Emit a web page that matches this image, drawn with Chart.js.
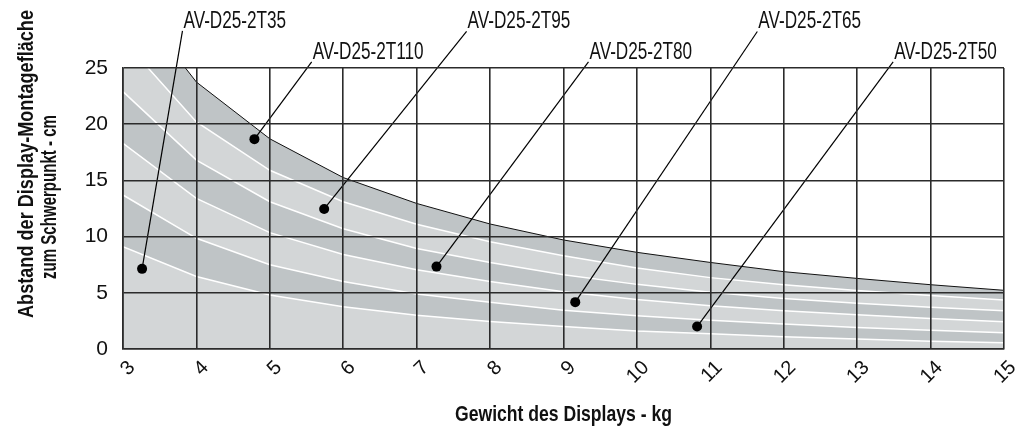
<!DOCTYPE html>
<html>
<head>
<meta charset="utf-8">
<script src="https://cdn.jsdelivr.net/npm/chart.js@4.4.1/dist/chart.umd.min.js"></script>
<style>
  html, body { margin: 0; padding: 0; background: #fff; }
  #wrap { width: 1018px; height: 430px; }
</style>
</head>
<body>
<div id="wrap"><canvas id="chart"></canvas></div>
<script>
// weight of the display (kg) at each vertex of the curves
var weights = [3, 4, 5, 6, 7, 8, 9, 10, 11, 12, 13, 14, 15];

// max distance mounting face -> centre of gravity (cm), one curve per model
var dist2T35  = [9.1, 6.45, 4.8, 3.75, 3.0, 2.45, 2.0, 1.6, 1.35, 1.1, 0.9, 0.7, 0.55];
var dist2T50  = [13.7, 9.85, 7.5, 6.0, 4.9, 4.15, 3.45, 2.95, 2.55, 2.22, 1.92, 1.66, 1.44];
var dist2T65  = [18.3, 13.4, 10.35, 8.4, 7.05, 6.0, 5.1, 4.4, 3.85, 3.4, 3.05, 2.72, 2.42];
var dist2T80  = [22.9, 16.8, 13.1, 10.7, 8.95, 7.7, 6.6, 5.75, 5.05, 4.5, 4.08, 3.72, 3.4];
var dist2T95  = [27.5, 20.2, 15.9, 13.1, 11.1, 9.55, 8.3, 7.2, 6.35, 5.72, 5.2, 4.75, 4.35];
var dist2T110 = [32.1, 23.75, 18.7, 15.25, 12.95, 11.12, 9.7, 8.6, 7.7, 6.88, 6.28, 5.72, 5.22];

var models = ['AV-D25-2T35', 'AV-D25-2T50', 'AV-D25-2T65', 'AV-D25-2T80', 'AV-D25-2T95', 'AV-D25-2T110'];
var curves = [dist2T35, dist2T50, dist2T65, dist2T80, dist2T95, dist2T110];

// callouts: a dot inside each band, and where the leader meets its label
var dotWeight     = [3.26, 10.82, 9.16, 7.27, 5.74, 4.79];
var dotDistance   = [7.13, 2.0, 4.17, 7.33, 12.46, 18.67];
var labelWeight   = [3.81, 13.49, 11.64, 9.34, 7.68, 5.57];
var labelDistance = [28.3, 25.55, 28.25, 25.55, 28.25, 25.55];

var xTicks = [3, 4, 5, 6, 7, 8, 9, 10, 11, 12, 13, 14, 15];
var yTicks = [0, 5, 10, 15, 20, 25];

var xTitle = 'Gewicht des Displays - kg';
var yTitle = ['Abstand der Display-Montagefläche', 'zum Schwerpunkt - cm'];

// there is no condensed face installed, so text drawn here is squeezed sideways
var FONT = '"Liberation Sans", Arial, sans-serif';
var SQUEEZE = 0.73;
var LIGHT = '#d3d6d7';
var DARK = '#bfc4c6';

var datasets = [];

curves.forEach(function(vals, i) {
	var top = i === curves.length - 1;
	datasets.push({
		label: models[i],
		data: weights.map(function(w, j) { return {x: w, y: vals[j]}; }),
		borderColor: top ? '#111' : '#fff',
		borderWidth: top ? 1 : 1.5,
		backgroundColor: i % 2 === 0 ? LIGHT : DARK,
		fill: i === 0 ? 'origin' : '-1',
		pointRadius: 0,
		tension: 0
	});
});

models.forEach(function(name, i) {
	datasets.push({
		label: name,
		isCallout: true,
		data: [
			{x: labelWeight[i], y: labelDistance[i]},
			{x: dotWeight[i], y: dotDistance[i]}
		],
		borderColor: '#000',
		borderWidth: 1.2,
		fill: false,
		clip: false,
		order: -1,
		pointRadius: function(ctx) { return ctx.dataIndex === 1 ? 5 : 0; },
		pointBackgroundColor: '#000',
		pointBorderColor: '#000',
		pointBorderWidth: 0
	});
});

function squeezedText(ctx, text, x, y, sx, angle) {
	ctx.save();
	ctx.translate(x, y);
	if (angle) ctx.rotate(angle);
	ctx.scale(sx, 1);
	ctx.fillText(text, 0, 0);
	ctx.restore();
}

// label text at the upper end of each leader line
var calloutLabels = {
	id: 'calloutLabels',
	afterDatasetsDraw: function(chart) {
		var ctx = chart.ctx;
		ctx.save();
		ctx.font = '23.5px ' + FONT;
		ctx.fillStyle = '#111';
		ctx.textAlign = 'left';
		ctx.textBaseline = 'alphabetic';
		chart.data.datasets.forEach(function(ds, i) {
			if (!ds.isCallout) return;
			var pt = chart.getDatasetMeta(i).data[0];
			squeezedText(ctx, ds.label, pt.x + 1, pt.y - 3, SQUEEZE);
		});
		ctx.restore();
	}
};

// axis titles; the two y lines have their own lengths and centres in the original
var axisTitles = {
	id: 'axisTitles',
	afterDraw: function(chart) {
		var ctx = chart.ctx;
		var area = chart.chartArea;
		ctx.save();
		ctx.font = 'bold 22px ' + FONT;
		ctx.fillStyle = '#111';
		ctx.textAlign = 'center';
		ctx.textBaseline = 'middle';

		var w = ctx.measureText(xTitle).width;
		squeezedText(ctx, xTitle, (area.left + area.right) / 2, 415, 217 / w);

		w = ctx.measureText(yTitle[0]).width;
		squeezedText(ctx, yTitle[0], 27, 164, 308 / w, -Math.PI / 2);
		w = ctx.measureText(yTitle[1]).width;
		squeezedText(ctx, yTitle[1], 50, 197, 164 / w, -Math.PI / 2);
		ctx.restore();
	}
};

new Chart(document.getElementById('chart').getContext('2d'), {
	type: 'line',
	data: {datasets: datasets},
	options: {
		responsive: true,
		maintainAspectRatio: false,
		animation: false,
		events: [],
		layout: {padding: {top: 68, right: 14, bottom: 0, left: 0}},
		plugins: {
			legend: {display: false},
			tooltip: {enabled: false},
			filler: {drawTime: 'beforeDatasetsDraw'}
		},
		scales: {
			x: {
				type: 'linear',
				min: xTicks[0],
				max: xTicks[xTicks.length - 1],
				afterBuildTicks: function(scale) {
					scale.ticks = xTicks.map(function(v) { return {value: v}; });
				},
				afterFit: function(scale) {
					scale.height = 81;
					scale.paddingLeft = 0;
					scale.paddingRight = 0;
				},
				grid: {color: '#2b2b2b', lineWidth: 1.6, drawTicks: false, z: 1},
				border: {color: '#2b2b2b', width: 1.6, z: 1},
				ticks: {
					minRotation: 45,
					maxRotation: 45,
					padding: 7,
					labelOffset: 9,
					color: '#111',
					font: {family: FONT, size: 20}
				}
			},
			y: {
				min: yTicks[0],
				max: yTicks[yTicks.length - 1],
				afterBuildTicks: function(scale) {
					scale.ticks = yTicks.map(function(v) { return {value: v}; });
				},
				afterFit: function(scale) {
					scale.width = 123;
					scale.paddingTop = 0;
					scale.paddingBottom = 0;
				},
				grid: {color: '#2b2b2b', lineWidth: 1.6, drawTicks: false, z: 1},
				border: {color: '#2b2b2b', width: 1.6, z: 1},
				ticks: {
					padding: 15,
					color: '#111',
					font: {family: FONT, size: 21}
				}
			}
		}
	},
	plugins: [calloutLabels, axisTitles]
});
</script>
</body>
</html>
